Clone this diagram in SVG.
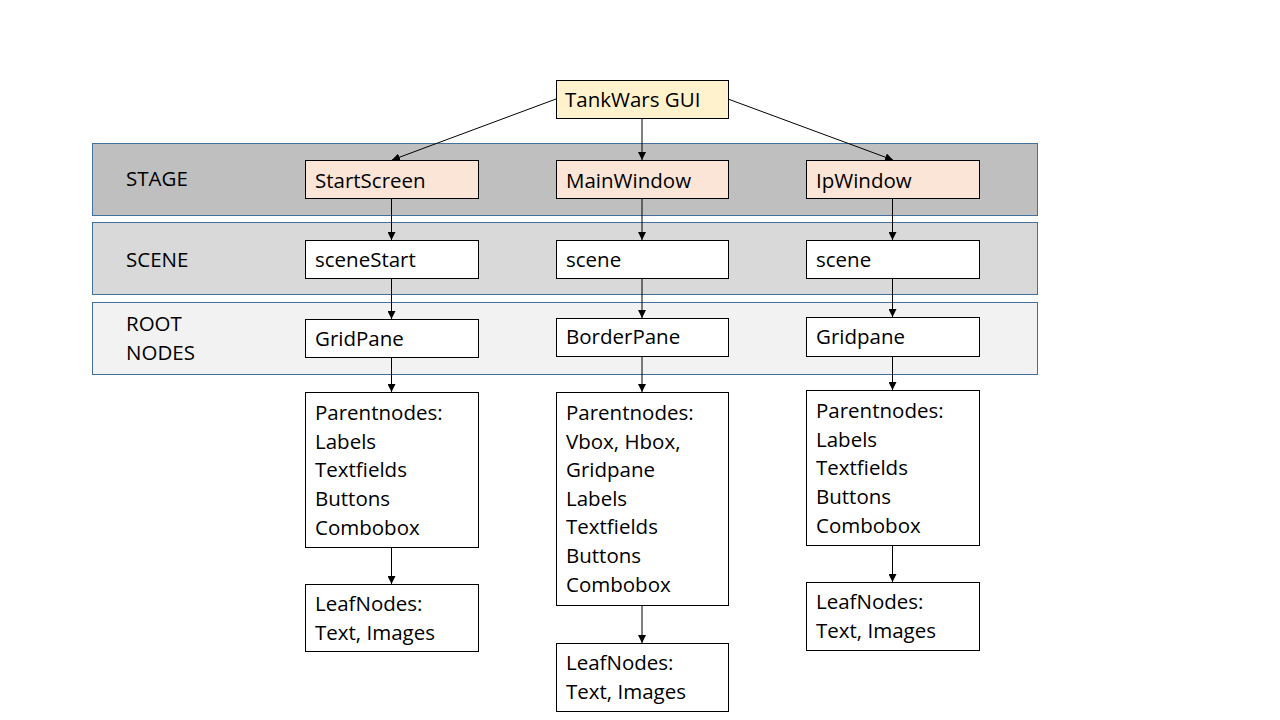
<svg xmlns="http://www.w3.org/2000/svg" width="1280" height="720" viewBox="0 0 1280 720">
<defs>
<marker id="ah" viewBox="0 0 10 10" refX="10" refY="5" markerWidth="8" markerHeight="8" markerUnits="userSpaceOnUse" orient="auto">
<path d="M0,0 L10,5 L0,10 z" fill="#000"/>
</marker>
<style>
text{font-family:"Open Sans","Liberation Sans",sans-serif;font-size:20.5px;fill:#000}
.band{stroke:#41719C;stroke-width:1}
.box{fill:#fff;stroke:#000;stroke-width:1}
.stage{fill:#FBE5D6;stroke:#000;stroke-width:1}
.top{fill:#FFF2CC;stroke:#000;stroke-width:1}
.c{stroke:#000;stroke-width:1;fill:none;marker-end:url(#ah)}
</style>
</defs>
<rect width="1280" height="720" fill="#fff"/>
<g id="bands">
<rect class="band" x="92.5" y="143.5" width="945" height="72" fill="#BFBFBF"/>
<rect class="band" x="92.5" y="222.5" width="945" height="72" fill="#D9D9D9"/>
<rect class="band" x="92.5" y="302.5" width="945" height="72" fill="#F2F2F2"/>
<text x="126" y="186">STAGE</text>
<text x="126" y="267">SCENE</text>
<text x="126" y="331">ROOT</text>
<text x="126" y="360">NODES</text>
</g>
<g id="connectors">
<line class="c" x1="556" y1="99" x2="392" y2="160"/>
<line class="c" x1="642" y1="118" x2="642" y2="160"/>
<line class="c" x1="728" y1="99" x2="893" y2="160"/>
<line class="c" x1="391.5" y1="198" x2="391.5" y2="240"/>
<line class="c" x1="642" y1="198" x2="642" y2="240"/>
<line class="c" x1="892.5" y1="198" x2="892.5" y2="240"/>
<line class="c" x1="391.5" y1="278" x2="391.5" y2="319"/>
<line class="c" x1="642" y1="278" x2="642" y2="318"/>
<line class="c" x1="892.5" y1="278" x2="892.5" y2="317"/>
<line class="c" x1="391.5" y1="357" x2="391.5" y2="392"/>
<line class="c" x1="642" y1="356" x2="642" y2="392"/>
<line class="c" x1="892.5" y1="356" x2="892.5" y2="390"/>
<line class="c" x1="391.5" y1="547" x2="391.5" y2="584"/>
<line class="c" x1="642" y1="605" x2="642" y2="643"/>
<line class="c" x1="892.5" y1="545" x2="892.5" y2="582"/>
</g>
<g id="tankwars"><rect class="top" x="556.5" y="80.5" width="172" height="38"/><text x="565" y="107">TankWars GUI</text></g>
<g id="startscreen"><rect class="stage" x="305.5" y="160.5" width="173" height="38"/><text x="315" y="188">StartScreen</text></g>
<g id="mainwindow"><rect class="stage" x="556.5" y="160.5" width="172" height="38"/><text x="566" y="188">MainWindow</text></g>
<g id="ipwindow"><rect class="stage" x="806.5" y="160.5" width="173" height="38"/><text x="816" y="188">IpWindow</text></g>
<g id="scenestart"><rect class="box" x="305.5" y="240.5" width="173" height="38"/><text x="315" y="267">sceneStart</text></g>
<g id="scene-main"><rect class="box" x="556.5" y="240.5" width="172" height="38"/><text x="566" y="267">scene</text></g>
<g id="scene-ip"><rect class="box" x="806.5" y="240.5" width="173" height="38"/><text x="816" y="267">scene</text></g>
<g id="gridpane-start"><rect class="box" x="305.5" y="319.5" width="173" height="38"/><text x="315" y="346">GridPane</text></g>
<g id="borderpane"><rect class="box" x="556.5" y="318.5" width="172" height="38"/><text x="566" y="344">BorderPane</text></g>
<g id="gridpane-ip"><rect class="box" x="806.5" y="317.5" width="173" height="39"/><text x="816" y="344">Gridpane</text></g>
<g id="parent-start"><rect class="box" x="305.5" y="392.5" width="173" height="155"/>
<text x="315" y="420">Parentnodes:</text><text x="315" y="448.7">Labels</text><text x="315" y="477.4">Textfields</text><text x="315" y="506.1">Buttons</text><text x="315" y="534.8">Combobox</text></g>
<g id="parent-main"><rect class="box" x="556.5" y="392.5" width="172" height="213"/>
<text x="566" y="420">Parentnodes:</text><text x="566" y="448.6">Vbox, Hbox,</text><text x="566" y="477.2">Gridpane</text><text x="566" y="505.8">Labels</text><text x="566" y="534.4">Textfields</text><text x="566" y="563">Buttons</text><text x="566" y="591.6">Combobox</text></g>
<g id="parent-ip"><rect class="box" x="806.5" y="390.5" width="173" height="155"/>
<text x="816" y="418">Parentnodes:</text><text x="816" y="446.7">Labels</text><text x="816" y="475.4">Textfields</text><text x="816" y="504.1">Buttons</text><text x="816" y="532.8">Combobox</text></g>
<g id="leaf-start"><rect class="box" x="305.5" y="584.5" width="173" height="67"/><text x="315" y="611">LeafNodes:</text><text x="315" y="639.7">Text, Images</text></g>
<g id="leaf-main"><rect class="box" x="556.5" y="643.5" width="172" height="68"/><text x="566" y="670">LeafNodes:</text><text x="566" y="698.7">Text, Images</text></g>
<g id="leaf-ip"><rect class="box" x="806.5" y="582.5" width="173" height="68"/><text x="816" y="609">LeafNodes:</text><text x="816" y="637.7">Text, Images</text></g>
</svg>
